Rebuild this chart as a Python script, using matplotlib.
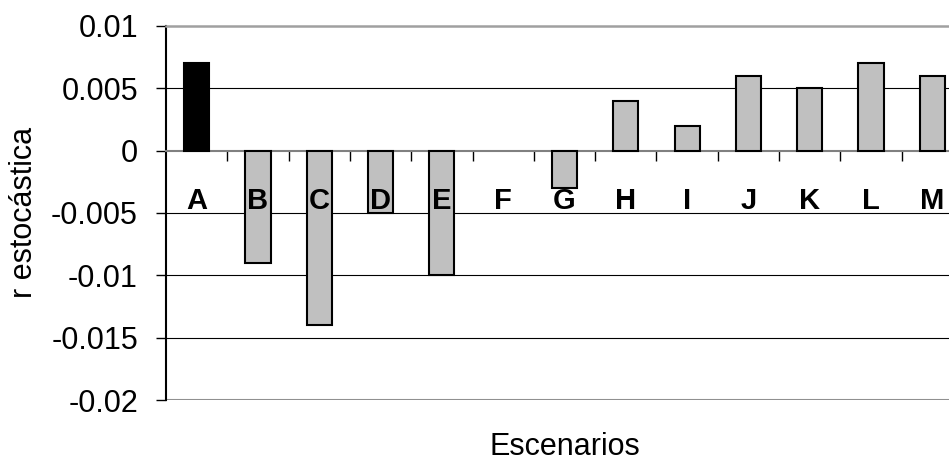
import matplotlib
matplotlib.use("Agg")
import matplotlib.pyplot as plt
import matplotlib.transforms as mtransforms

plt.rcParams['font.family'] = ['Liberation Sans', 'DejaVu Sans']

escenarios = ['A', 'B', 'C', 'D', 'E', 'F', 'G', 'H', 'I', 'J', 'K', 'L', 'M']
r_estocastica = [0.007, -0.009, -0.014, -0.005, -0.010, 0.0, -0.003,
                 0.004, 0.002, 0.006, 0.005, 0.007, 0.006]
y_ticks = [-0.02, -0.015, -0.01, -0.005, 0, 0.005, 0.01]
y_tick_labels = ['-0.02', '-0.015', '-0.01', '-0.005', '0', '0.005', '0.01']

W, H = 949, 463
fig = plt.figure(figsize=(W / 100, H / 100), dpi=100)
# plot area runs a bit past the right edge of the figure
ax = fig.add_axes([166 / W, (H - 400) / H, (963 - 166) / W, 374 / H])

x = list(range(len(escenarios)))
colores = ['black'] + ['#C0C0C0'] * (len(escenarios) - 1)
# a zero-height bar shows no outline
bordes = [1.5 if v != 0 else 0 for v in r_estocastica]
ax.bar(x, r_estocastica, width=0.41, color=colores, edgecolor='black',
       linewidth=bordes, zorder=3)

ax.set_xlim(-0.5, len(escenarios) - 0.5)
ax.set_ylim(-0.02, 0.01)
ax.set_yticks(y_ticks)
ax.set_yticklabels(y_tick_labels, fontsize=22)
ax.tick_params(axis='y', direction='out', length=7.2, width=1, pad=13)

# horizontal gridlines
for v in y_ticks[1:-1]:
    if v != 0:
        ax.axhline(v, color='black', linewidth=0.8, zorder=1)
ax.axhline(-0.02, color='#909090', linewidth=1.5, zorder=1)

# x axis sits on the zero line, ticks between categories
ax.spines['bottom'].set_position(('data', 0))
ax.spines['bottom'].set_color('#808080')
ax.spines['bottom'].set_linewidth(1.5)
ax.spines['top'].set_color('#A0A0A0')
ax.spines['top'].set_linewidth(1.8)
ax.spines['right'].set_visible(False)
ax.spines['left'].set_linewidth(1.5)
ax.set_xticks([i + 0.5 for i in x[:-1]])
ax.set_xticklabels([])
ax.tick_params(axis='x', direction='out', length=7.2, width=1, color='black')

trans = mtransforms.blended_transform_factory(ax.transData, ax.transAxes)
for i, nombre in enumerate(escenarios):
    ax.text(i, (400 - 209) / 374, nombre, transform=trans, ha='center',
            va='baseline', fontsize=21, fontweight='bold', zorder=5)

fig.text((166 + 963) / 2 / W, 1 - 447 / H, 'Escenarios', ha='center',
         va='center', fontsize=22)
fig.text(24 / W, 1 - 212 / H, 'r estocástica', rotation=90, ha='center',
         va='center', fontsize=22)

fig.savefig('out.png', dpi=100)
